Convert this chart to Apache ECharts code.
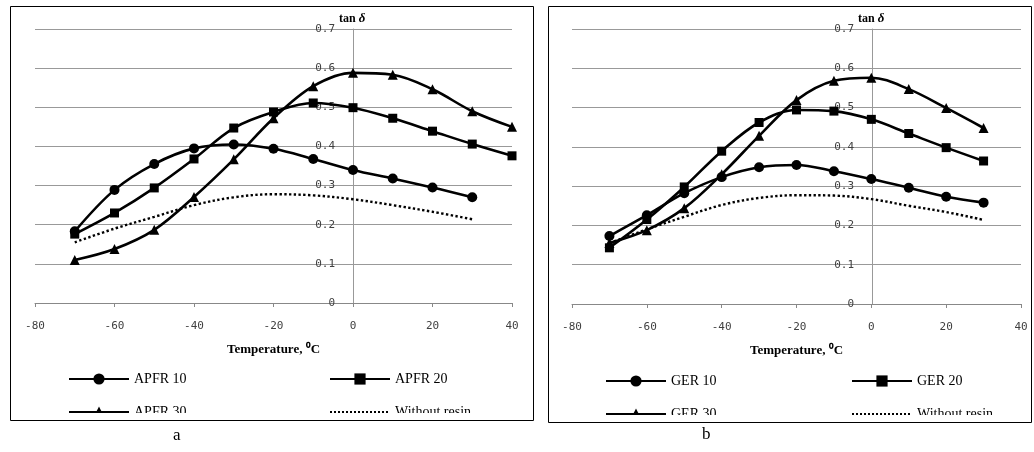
<!DOCTYPE html>
<html>
<head>
<meta charset="utf-8">
<script src="https://cdn.jsdelivr.net/npm/echarts@6/dist/echarts.min.js"></script>
<style>
  html, body { margin: 0; padding: 0; background: #fff; }
  #chart { width: 1034px; height: 452px; }
</style>
</head>
<body>
<div id="chart"></div>
<script>
// temperatures, 0C
var temps = [-70, -60, -50, -40, -30, -20, -10, 0, 10, 20, 30, 40];

// panel a: APFR
var apfr10 = [0.183, 0.289, 0.355, 0.395, 0.405, 0.394, 0.368, 0.340, 0.318, 0.295, 0.270];
var apfr20 = [0.176, 0.230, 0.294, 0.368, 0.447, 0.488, 0.511, 0.499, 0.472, 0.439, 0.406, 0.376];
var apfr30 = [0.110, 0.138, 0.187, 0.271, 0.367, 0.472, 0.554, 0.588, 0.583, 0.546, 0.490, 0.450];
var apfrNoResin = [0.155, 0.190, 0.220, 0.250, 0.270, 0.278, 0.275, 0.265, 0.250, 0.233, 0.214];

// panel b: GER
var ger10 = [0.173, 0.226, 0.282, 0.323, 0.348, 0.354, 0.338, 0.318, 0.296, 0.273, 0.258];
var ger20 = [0.143, 0.215, 0.298, 0.389, 0.462, 0.494, 0.491, 0.470, 0.434, 0.398, 0.364];
var ger30 = [0.155, 0.188, 0.244, 0.330, 0.428, 0.519, 0.568, 0.576, 0.547, 0.499, 0.448];
var gerNoResin = [0.155, 0.190, 0.222, 0.252, 0.270, 0.277, 0.276, 0.267, 0.250, 0.234, 0.214];

var xTicks = { min: -80, max: 40, interval: 20 };
var yTicks = { min: 0, max: 0.7, interval: 0.1 };

var pairs = function (vals) {
    return vals.map(function (v, i) { return [temps[i], v]; });
};

var myChart = echarts.init(document.getElementById('chart'));

var labelFont = { fontFamily: 'DejaVu Sans Mono', fontSize: 11, color: '#404040' };
var legendText = { fontFamily: 'Liberation Serif', fontSize: 14, color: '#000' };

var xAxisFor = function (idx) {
    return {
        type: 'value', gridIndex: idx,
        min: xTicks.min, max: xTicks.max, interval: xTicks.interval,
        name: 'Temperature, \u2070C', nameLocation: 'middle', nameGap: 40,
        nameTextStyle: { fontFamily: 'Liberation Serif', fontWeight: 'bold', fontSize: 13, color: '#000' },
        axisLine: { onZero: false, lineStyle: { color: '#888', width: 1 } },
        axisTick: { length: 4, lineStyle: { color: '#888' } },
        axisLabel: Object.assign({ margin: 18 }, labelFont),
        splitLine: { show: false }
    };
};

// the y axis sits at T = 0, so shift it right from the grid edge
var yAxisFor = function (idx, shift) {
    return {
        type: 'value', gridIndex: idx, position: 'left', offset: -shift,
        min: yTicks.min, max: yTicks.max, interval: yTicks.interval,
        name: '{b|tan }{i|\u03b4}', nameLocation: 'end', nameGap: 4,
        nameTextStyle: {
            align: 'left', padding: [0, 0, 0, -14],
            rich: {
                b: { fontFamily: 'Liberation Serif', fontWeight: 'bold', fontSize: 12, color: '#000' },
                i: { fontFamily: 'Liberation Serif', fontWeight: 'bold', fontStyle: 'italic', fontSize: 13, color: '#000' }
            }
        },
        axisLine: { show: true, onZero: false, lineStyle: { color: '#999', width: 1 } },
        axisTick: { show: false },
        axisLabel: Object.assign({ margin: 18 }, labelFont),
        splitLine: { show: true, lineStyle: { color: '#999', width: 1 } }
    };
};

var lineSeries = function (name, vals, symbol, idx) {
    return {
        name: name, type: 'line', xAxisIndex: idx, yAxisIndex: idx,
        data: pairs(vals), smooth: 0.35,
        symbol: symbol, symbolSize: symbol === 'rect' ? 9 : 10,
        itemStyle: { color: '#000' },
        lineStyle: { color: '#000', width: 2.6 },
        animation: false
    };
};

var dottedSeries = function (name, vals, idx) {
    return {
        name: name, type: 'line', xAxisIndex: idx, yAxisIndex: idx,
        data: pairs(vals), smooth: 0.35, showSymbol: false, symbol: 'none',
        itemStyle: { color: '#000' },
        lineStyle: { color: '#000', width: 2.4, type: 'dotted' },
        animation: false
    };
};

var legendFor = function (names, left, top) {
    return {
        orient: 'vertical', left: left, top: top,
        data: names, itemWidth: 60, itemHeight: 14, itemGap: 19,
        textStyle: legendText, selectedMode: false
    };
};

var options = {
    backgroundColor: '#fff',
    animation: false,
    grid: [
        { left: 35, right: 522, top: 29, bottom: 149 },
        { left: 572, right: 13, top: 29, bottom: 148 }
    ],
    xAxis: [xAxisFor(0), xAxisFor(1)],
    yAxis: [yAxisFor(0, 318), yAxisFor(1, 300)],
    legend: [
        legendFor(['APFR 10', 'APFR 30'], 63, 367),
        legendFor(['APFR 20', { name: 'Without resin', itemStyle: { opacity: 0 } }], 324, 367),
        legendFor(['GER 10', 'GER 30'], 600, 369),
        legendFor(['GER 20', { name: 'Without resin ', itemStyle: { opacity: 0 } }], 846, 369)
    ],
    series: [
        lineSeries('APFR 10', apfr10, 'circle', 0),
        lineSeries('APFR 20', apfr20, 'rect', 0),
        lineSeries('APFR 30', apfr30, 'triangle', 0),
        dottedSeries('Without resin', apfrNoResin, 0),
        lineSeries('GER 10', ger10, 'circle', 1),
        lineSeries('GER 20', ger20, 'rect', 1),
        lineSeries('GER 30', ger30, 'triangle', 1),
        dottedSeries('Without resin ', gerNoResin, 1)
    ],
    graphic: [
        // legend bottom row is cut by the frame in the original
        { type: 'rect', z: 100, shape: { x: 12, y: 413, width: 520, height: 7 }, style: { fill: '#fff' } },
        { type: 'rect', z: 100, shape: { x: 550, y: 415, width: 480, height: 7 }, style: { fill: '#fff' } },
        { type: 'rect', z: 101, shape: { x: 10.5, y: 6.5, width: 523, height: 414 }, style: { fill: 'none', stroke: '#000', lineWidth: 1 } },
        { type: 'rect', z: 101, shape: { x: 548.5, y: 6.5, width: 483, height: 416 }, style: { fill: 'none', stroke: '#000', lineWidth: 1 } },
        { type: 'text', left: 173, top: 427, style: { text: 'a', font: '17px "Liberation Serif"', fill: '#000' } },
        { type: 'text', left: 702, top: 426, style: { text: 'b', font: '17px "Liberation Serif"', fill: '#000' } }
    ]
};

myChart.setOption(options);
</script>
</body>
</html>
